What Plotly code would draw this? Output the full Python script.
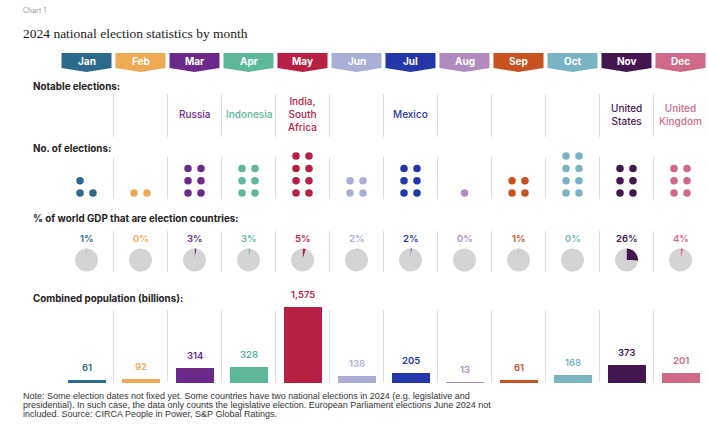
import plotly.graph_objects as go

W, H = 708, 424

# ---- data ----
months = ["Jan", "Feb", "Mar", "Apr", "May", "Jun",
          "Jul", "Aug", "Sep", "Oct", "Nov", "Dec"]
month_colors = ["#2b6a8c", "#efaa55", "#6b2a8a", "#5cb899", "#b72043", "#a9aed6",
                "#2437a8", "#b08cbe", "#c7511f", "#79b4c2", "#441650", "#cf6987"]
notable = ["", "", "Russia", "Indonesia", "India,<br>South<br>Africa", "",
           "Mexico", "", "", "", "United<br>States", "United<br>Kingdom"]
n_elections = [3, 2, 6, 6, 8, 4, 6, 1, 4, 8, 6, 6]
gdp_share = [1, 0, 3, 3, 5, 2, 2, 0, 1, 0, 26, 4]
population = [61, 92, 314, 328, 1575, 138, 205, 13, 61, 168, 373, 201]
note_lines = [
    "Note: Some election dates not fixed yet. Some countries have two national elections in 2024 (e.g. legislative and",
    "presidential). In such case, the data only counts the legislative election. European Parliament elections June 2024 not",
    "included. Source: CIRCA People in Power, S&P Global Ratings.",
]

SANS = "Inter, Roboto, Arial, sans-serif"
SERIF = "Liberation Serif, DejaVu Serif, serif"
NARROW = "Liberation Sans Narrow, Liberation Sans, Arial, sans-serif"

COL0, COLW = 59.5, 54.0          # left edge of first column, column width (px)


def px(x):
    return x / W


def py(y):
    return 1 - y / H


def col_center_px(i):
    return COL0 + COLW * (i + 0.5)


fig = go.Figure()

# ---- dot grid: number of elections ----
dot_x, dot_y, dot_c = [], [], []
for i, n in enumerate(n_elections):
    for k in range(n):
        row, side = divmod(k, 2)
        off = 0.0 if n == 1 else (side - 0.5) * 0.24
        dot_x.append(i + off)
        dot_y.append(row)
        dot_c.append(month_colors[i])
fig.add_trace(go.Scatter(
    x=dot_x, y=dot_y, mode="markers", xaxis="x", yaxis="y",
    marker=dict(size=7.5, color=dot_c), hoverinfo="skip", showlegend=False))

# ---- bars: combined population ----
fig.add_trace(go.Bar(
    x=list(range(12)), y=population, xaxis="x", yaxis="y2",
    width=0.70, marker=dict(color=month_colors, line=dict(width=0)),
    hoverinfo="skip", showlegend=False))
for i, v in enumerate(population):
    fig.add_annotation(
        x=i, y=v, xref="x", yref="y2", text=f"{v:,}", showarrow=False,
        xanchor="center", yanchor="bottom", yshift=5,
        font=dict(family=SANS, size=9.5, weight=600, color=month_colors[i]))

# ---- pies: share of world GDP ----
R = 11.5
for i, v in enumerate(gdp_share):
    cx, cy = col_center_px(i), 260
    fig.add_trace(go.Pie(
        values=[v, 100 - v], sort=False, direction="clockwise", rotation=0,
        marker=dict(colors=[month_colors[i], "#d4d4d4"], line=dict(width=0)),
        textinfo="none", hoverinfo="skip", showlegend=False,
        domain=dict(x=[px(cx - R), px(cx + R)], y=[py(cy + R), py(cy - R)])))
    fig.add_annotation(
        x=i, y=py(239), xref="x", yref="paper", text=f"{v}%", showarrow=False,
        xanchor="center", yanchor="middle",
        font=dict(family=SANS, size=9.5, weight=600, color=month_colors[i]))

# ---- month tabs ----
half = 25 / COLW
for i, m in enumerate(months):
    x0, x1 = i - half, i + half
    path = (f"M {x0},{py(53)} L {x1},{py(53)} L {x1},{py(68)} "
            f"L {i},{py(72)} L {x0},{py(68)} Z")
    fig.add_shape(type="path", path=path, xref="x", yref="paper",
                  fillcolor=month_colors[i], line=dict(width=0), layer="below")
    fig.add_annotation(x=i, y=py(61), xref="x", yref="paper", text=f"<b>{m}</b>",
                       showarrow=False, xanchor="center", yanchor="middle",
                       font=dict(family=SANS, size=10, color="white"))

# ---- notable elections ----
for i, t in enumerate(notable):
    if t:
        fig.add_annotation(x=i, y=py(114), xref="x", yref="paper", text=t,
                           showarrow=False, xanchor="center", yanchor="middle",
                           font=dict(family=SANS, size=10, weight=500,
                                     color=month_colors[i]))

# ---- column separators per section ----
for (y0, y1) in [(94, 137), (157, 199), (231, 272), (310, 382)]:
    for i in range(11):
        fig.add_shape(type="line", xref="x", yref="paper",
                      x0=i + 0.5, x1=i + 0.5, y0=py(y1), y1=py(y0),
                      line=dict(color="#dcdcdc", width=1), layer="below")


# ---- headings ----
def label(x, y, text, size, family=SANS, color="#222222", weight=None):
    f = dict(family=family, size=size, color=color)
    if weight:
        f["weight"] = weight
    fig.add_annotation(x=px(x), y=py(y), xref="paper", yref="paper", text=text,
                       showarrow=False, xanchor="left", yanchor="middle", align="left",
                       font=f)


label(21, 11, "Chart 1", 7, color="#9a9a9a")
label(21, 33, "2024 national election statistics by month", 13.5, family=SERIF, color="#1a1a1a")
label(31, 86, "<b>Notable elections:</b>", 9.8)
label(31, 149, "<b>No. of elections:</b>", 9.8)
label(31, 218, "<b>% of world GDP that are election countries:</b>", 9.8)
label(31, 298, "<b>Combined population (billions):</b>", 9.8)

for k, line in enumerate(note_lines):
    label(21, 396 + 9 * k, line, 9, family=NARROW, color="#333333")

# ---- axes ----
row_px = 12.3
fig.update_layout(
    width=W, height=H, margin=dict(l=0, r=0, t=0, b=0),
    paper_bgcolor="white", plot_bgcolor="rgba(0,0,0,0)",
    xaxis=dict(domain=[px(COL0), px(COL0 + 12 * COLW)], range=[-0.5, 11.5],
               visible=False, fixedrange=True),
    yaxis=dict(domain=[py(200), py(150)],
               range=[-7 / row_px, (193 - 150) / row_px],
               visible=False, fixedrange=True),
    yaxis2=dict(domain=[py(383), py(300)], anchor="x",
                range=[0, max(population) * 83 / 76],
                visible=False, fixedrange=True),
    bargap=0,
)

fig.write_html("out.html")
